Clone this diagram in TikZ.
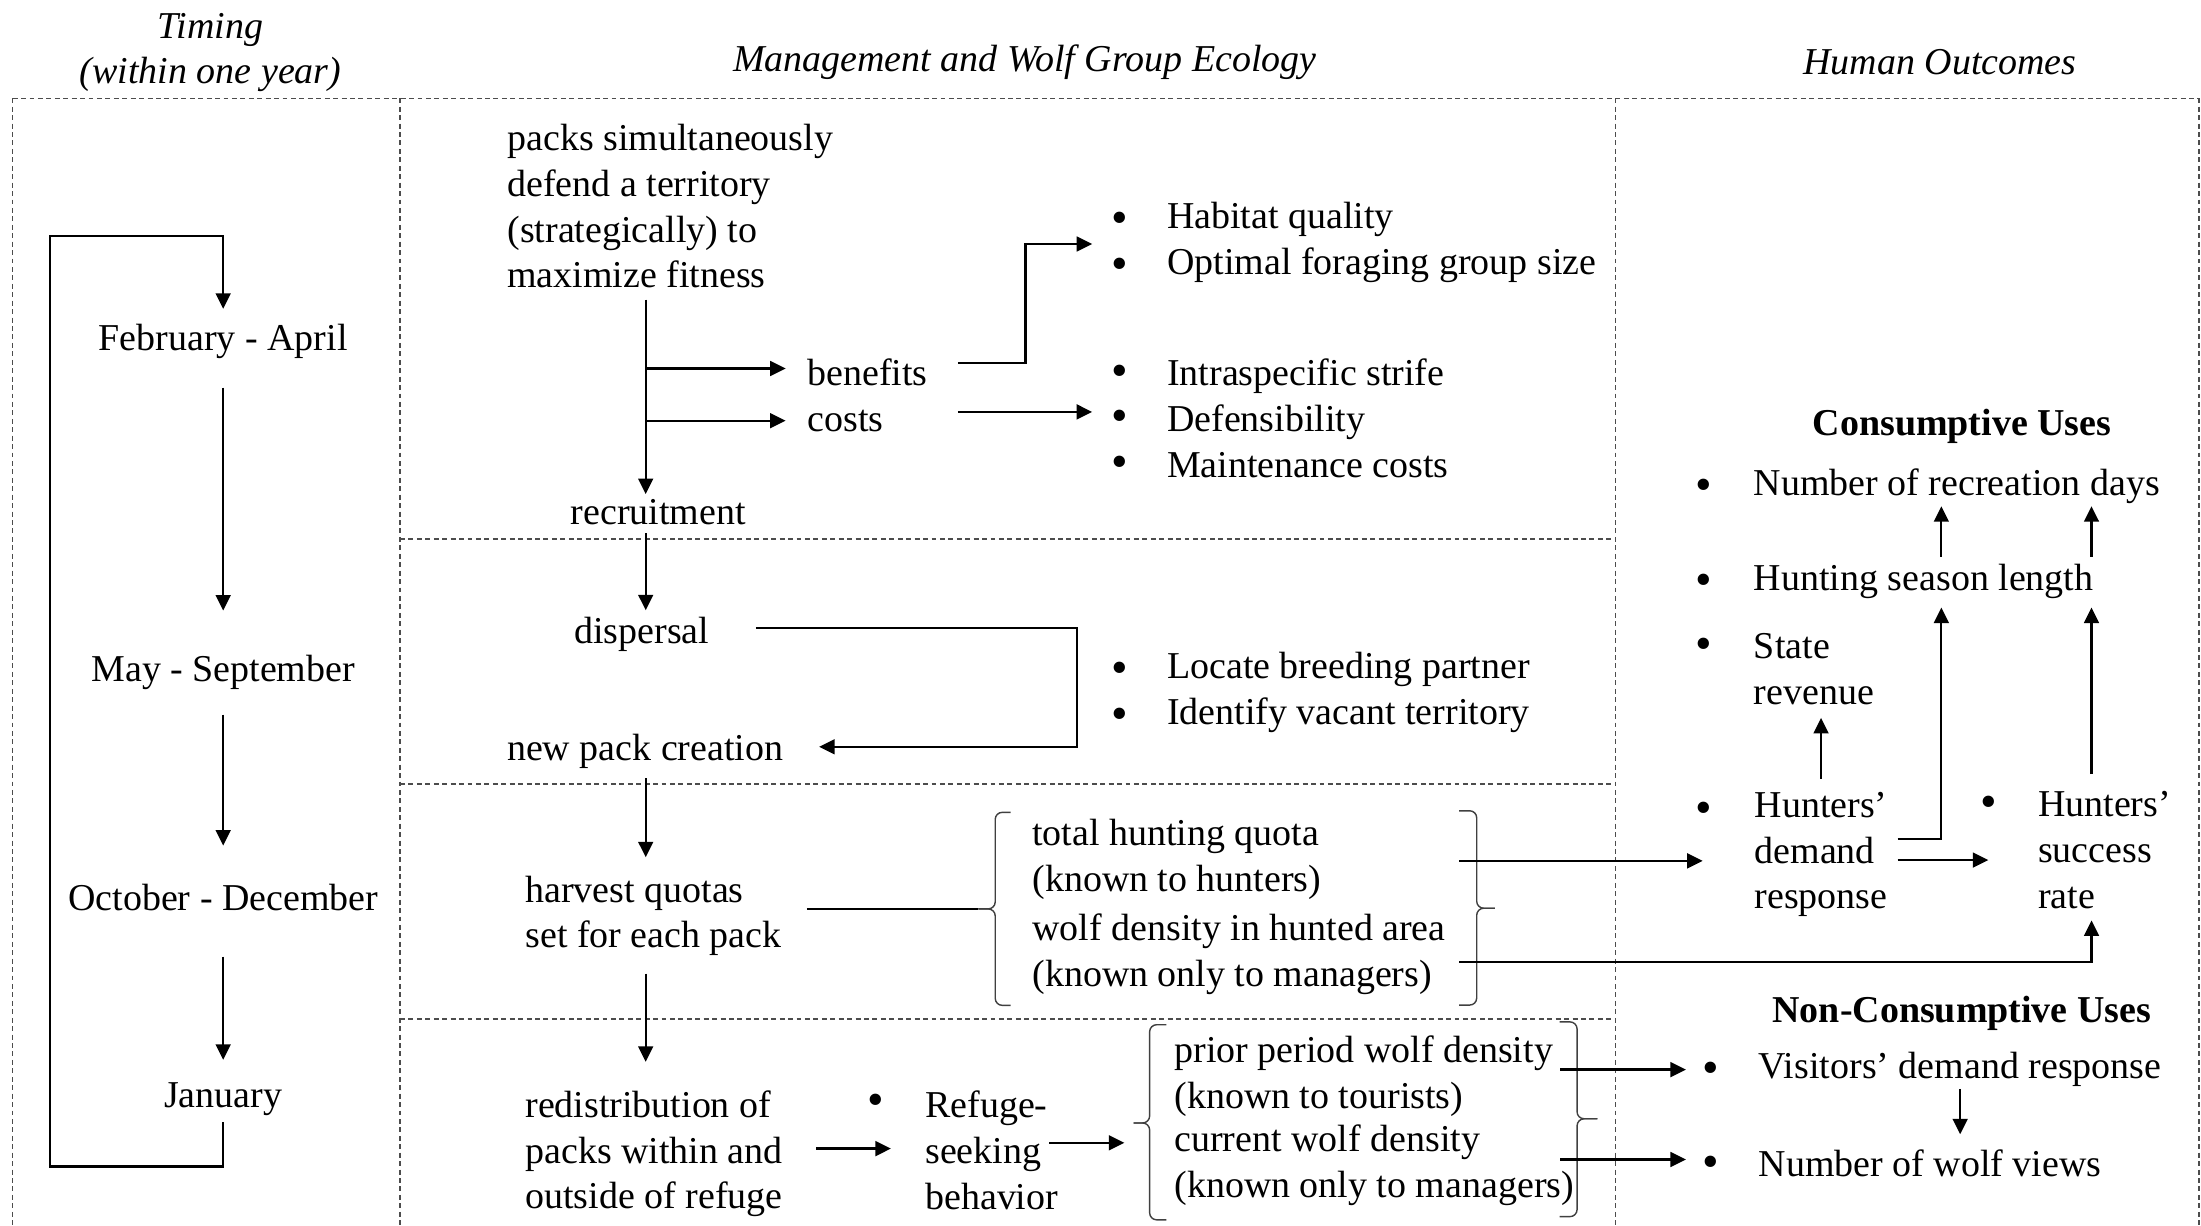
\documentclass[tikz,border=0pt]{standalone}
\usepackage{fontspec}
\setmainfont{Liberation Serif}
\usetikzlibrary{arrows.meta}

\begin{document}
\begin{tikzpicture}[
  x=0.14037mm, y=-0.14037mm,
  every node/.style={font=\fontsize{10.8}{13}\selectfont, inner sep=0pt},
  lbl/.style={yshift=-0.8pt},
  txt/.style={lbl, anchor=west, align=left},
  mon/.style={lbl, align=center},
  hdr/.style={lbl, font=\fontsize{10.8}{13}\selectfont\itshape, align=center},
  grp/.style={lbl, font=\fontsize{10.8}{13}\selectfont\bfseries},
  bul/.style={font=\fontsize{13.5}{13}\selectfont, yshift=-1.8pt},
  arr/.style={-{Triangle[length=4.4pt,width=4.2pt]}, line width=0.65pt},
  ln/.style={line width=0.65pt},
  brc/.style={line width=0.4pt, black!75, rounded corners=2pt},
  divline/.style={line width=0.35pt, black!70, dash pattern=on 1.4pt off 1pt}
]
  \useasboundingbox (0,0) rectangle (1568,873);

  % Column heads
  \node[hdr] (hTime) at (150,35.5) {Timing\\(within one year)};
  \node[hdr] (hMgmt) at (730,42) {Management and Wolf Group Ecology};
  \node[hdr] (hHuman) at (1382,42) {Human Outcomes};

  % Dashed frame and rows
  \draw[divline] (9,70) -- (1566.5,70);
  \foreach \x in {9,285,1151,1566.5}
    \draw[divline] (\x,70) -- (\x,873);
  \foreach \y in {384,558.5,726}
    \draw[divline] (285,\y) -- (1151,\y);

  % Timing column
  \node[mon] (feb) at (159,241.5) {February - April};
  \node[mon] (may) at (159,477) {May - September};
  \node[mon] (oct) at (159,637.5) {October - December};
  \node[mon] (jan) at (159,781) {January};
  \coordinate (loopB) at (35.5,831);
  \coordinate (loopT) at (35.5,168);

  \draw[arr] ([yshift=-13pt]feb.center) -- ([yshift=17.6pt]may.center);
  \draw[arr] ([yshift=-12pt]may.center) -- ([yshift=14.8pt]oct.center);
  \draw[arr] ([yshift=-16.8pt]oct.center) -- ([yshift=11.2pt]jan.center);
  \draw[arr] ([yshift=-6.6pt]jan.center) |- (loopB) -- (loopT) -| ([yshift=9.4pt]feb.center);

  % Territory row
  \node[txt] (pack) at (361,145) {packs simultaneously\\defend a territory\\(strategically) to\\maximize fitness};
  \coordinate (trunk) at (460,213.5);
  \node[txt] (benefits) at (574.7,263) {benefits};
  \node[txt] (costs) at (574.7,297.7) {costs};
  \node[mon] (recruit) at (469,362.5) {recruitment};
  \node[txt] (benL) at (831,170.5) {Habitat quality\\Optimal foraging group size};
  \node[txt] (costL) at (831,296) {Intraspecific strife\\Defensibility\\Maintenance costs};
  \coordinate (benJ) at (730.6,173.8);

  % Dispersal row
  \node[mon] (disp) at (457.3,450) {dispersal};
  \node[txt] (newpack) at (360.8,533.4) {new pack creation};
  \node[txt] (dispL) at (831,491.5) {Locate breeding partner\\Identify vacant territory};
  \coordinate (dispJ) at (767,532);

  % Harvest row
  \node[txt] (harvest) at (373.8,650.5) {harvest quotas\\set for each pack};
  \node[txt] (quota) at (735,610) {total hunting quota\\(known to hunters)};
  \node[txt] (dens) at (735,678) {wolf density in hunted area\\(known only to managers)};

  % Refuge row
  \node[txt] (redist) at (373.8,820) {redistribution of\\packs within and\\outside of refuge};
  \node[txt] (refuge) at (658.7,817.4) {Refuge-\\seeking\\behavior};
  \node[txt] (prior) at (836.2,764.5) {prior period wolf density\\(known to tourists)};
  \node[txt] (current) at (836.2,828) {current wolf density\\(known only to managers)};

  % Human outcomes
  \node[grp] (cons) at (1397.7,301.5) {Consumptive Uses};
  \node[txt] (days) at (1249,344.7) {Number of recreation days};
  \node[txt] (season) at (1249,412) {Hunting season length};
  \node[txt] (revenue) at (1249,474.5) {State\\revenue};
  \node[txt] (demand) at (1249.5,606.7) {Hunters'\\demand\\response};
  \node[txt] (success) at (1451.5,603.5) {Hunters'\\success\\rate};
  \node[grp] (noncons) at (1397.6,719.8) {Non-Consumptive Uses};
  \node[txt] (visitors) at (1252.5,760) {Visitors' demand response};
  \node[txt] (views) at (1252.5,827) {Number of wolf views};
  \coordinate (colA) at (1383,0);
  \coordinate (colB) at (1490,0);

  % Bullets
  \foreach \n/\x/\y in {bHab/797.5/154, bOpt/797.5/187, bStr/797.5/263.3, bDef/797.5/295,
      bMnt/797.5/328.2, bLoc/797.5/474.5, bIdv/797.5/507.7, bRef/623.7/782.7,
      bDay/1214/344.7, bSea/1214/412, bRev/1214/458, bDem/1214/574.2,
      bSuc/1416.5/570, bVis/1219/760, bView/1219/827}
    \node[bul] (\n) at (\x,\y) {\textbullet};

  % Braces
  \foreach \xa/\xs/\xt/\yt/\ym/\yb in {720/709/697/578.7/647.5/716.2, 1039.5/1052/1065/577.6/647/716,
      831/819/807.5/730/800/869, 1111/1123.5/1138/728/797/866.7} {
    \draw[brc] (\xa,\yt) -| (\xs,\ym) -- (\xt,\ym);
    \draw[brc] (\xt,\ym) -- (\xs,\ym) |- (\xa,\yb);
  }
  \coordinate (bAl) at (697,647.5);
  \coordinate (bAr) at (1039.5,647);
  \coordinate (bBl) at (807.5,800);
  \coordinate (bBr) at (1111.5,797);

  % Ecology flow
  \draw[arr] (trunk) -- ([yshift=5pt]trunk |- recruit.center);
  \draw[arr] ([yshift=1pt]trunk |- benefits.west) -- ([xshift=-6pt,yshift=1pt]benefits.west);
  \draw[arr] (trunk |- costs.west) -- ([xshift=-6pt]costs.west);
  \draw[arr] ([xshift=8.4pt,yshift=2.5pt]benefits.east) -| (benJ) -- ([xshift=-5.2pt]benJ -| bHab.west);
  \draw[arr] ([xshift=8.4pt,yshift=2.5pt]benefits.east |- costs.east) coordinate (c0)
    -- ([xshift=-5.2pt]c0 -| bDef.west);
  \draw[arr] ([yshift=-6.2pt]trunk |- recruit.center) -- ([yshift=6.9pt]trunk |- disp.center);
  \draw[arr] ([xshift=13pt,yshift=1.9pt]disp.east) -| (dispJ) -- ([xshift=10pt]dispJ -| newpack.east);
  \draw[arr] ([yshift=-7.6pt]trunk |- newpack.center) -- ([yshift=16.7pt]trunk |- harvest.center);
  \draw[ln] ([xshift=7pt]harvest.east |- bAl) -- (bAl);
  \draw[arr] ([yshift=-16.4pt]trunk |- harvest.center) -- ([yshift=26.2pt]trunk |- redist.center);
  \draw[arr] ([xshift=9.3pt,yshift=1.5pt]redist.east) coordinate (c2) -- ([xshift=-9.6pt]c2 -| refuge.west);
  \draw[arr] ([xshift=-2.7pt,yshift=2.1pt]refuge.east) coordinate (c3) -- ([xshift=-2.6pt]c3 -| bBl);

  % Links to outcomes
  \draw[arr] ([yshift=-0.5pt]bAr |- quota.center) coordinate (c1) -- ([xshift=-0.4pt]c1 -| bDem.center);
  \draw[arr] ([yshift=-2.2pt]bAr |- dens.center) -| ([yshift=-3.2pt]colB |- success.south);
  \draw[arr] ([yshift=1.8pt]bBr |- prior.center) coordinate (c4) -- ([xshift=-4.6pt]c4 -| bVis.west);
  \draw[arr] ([yshift=1.6pt]bBr |- current.center) coordinate (c5) -- ([xshift=-4.6pt]c5 -| bView.west);

  % Outcome arrows
  \draw[arr] ([yshift=1.8pt]colA |- season.north) -- ([yshift=-0.4pt]colA |- days.south);
  \draw[arr] ([yshift=1.8pt]colB |- season.north) -- ([yshift=-0.4pt]colB |- days.south);
  \draw[arr] ([yshift=3.6pt]demand.north) coordinate (c6) -- ([yshift=-3.6pt]c6 |- revenue.south);
  \draw[arr] ([xshift=2.7pt,yshift=4.3pt]demand.east) -| ([yshift=-2.4pt]colA |- season.south);
  \draw[arr] ([xshift=2.7pt,yshift=-1.6pt]demand.east) coordinate (c7) -- (c7 -| bSuc.center);
  \draw[arr] ([yshift=4.7pt]colB |- success.north) -- ([yshift=-2.4pt]colB |- season.south);
  \draw[arr] ([yshift=-0.4pt]visitors.south) coordinate (c8) -- ([yshift=4.3pt]c8 |- views.north);
\end{tikzpicture}
\end{document}
